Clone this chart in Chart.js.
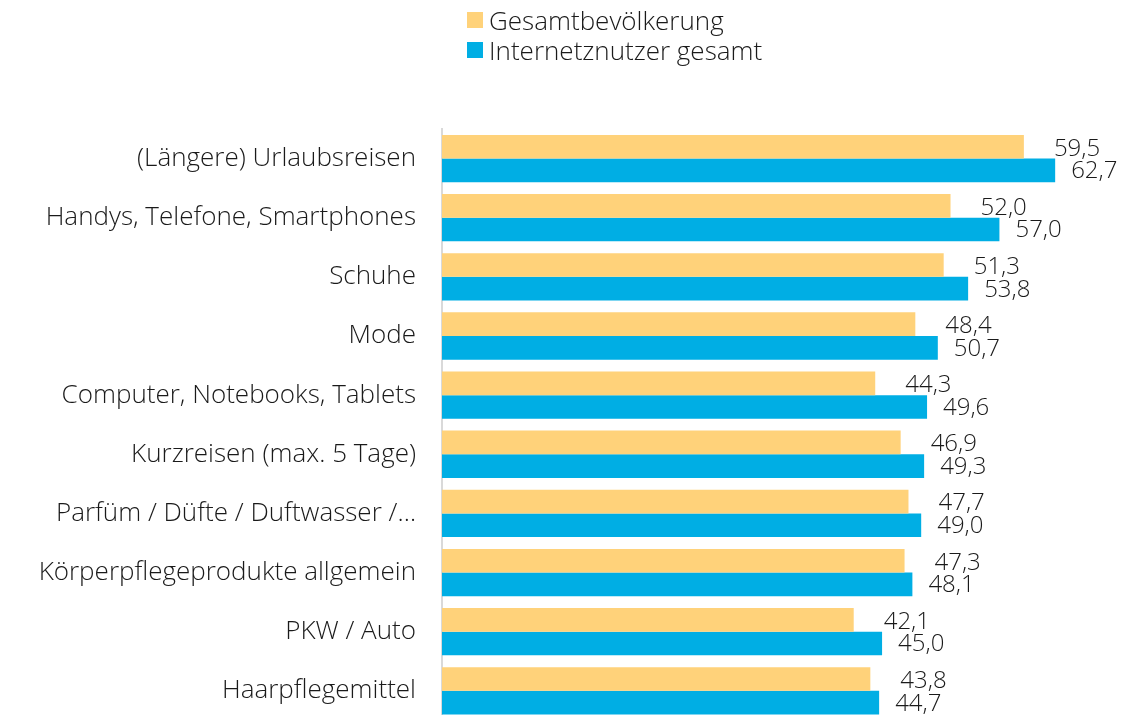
<!DOCTYPE html>
<html>
<head>
<meta charset="utf-8">
<script src="https://cdn.jsdelivr.net/npm/chart.js@4"></script>
<style>
  html, body { margin: 0; padding: 0; background: #fff; overflow: hidden; }
  #wrap { position: relative; width: 1122px; height: 762px; }
  #legend { position: absolute; left: 467px; top: 5px; font-family: "Open Sans", sans-serif; font-weight: 300; font-size: 26px; color: #1a1a1a; }
  #legend div { display: flex; align-items: center; height: 30px; }
  #legend span.box { display: inline-block; width: 16px; height: 16px; margin-right: 6px; }
</style>
</head>
<body>
<div id="wrap">
  <canvas id="chart"></canvas>
  <div id="legend"></div>
</div>
<script>
const categories = [
    "(Längere) Urlaubsreisen",
    "Handys, Telefone, Smartphones",
    "Schuhe",
    "Mode",
    "Computer, Notebooks, Tablets",
    "Kurzreisen (max. 5 Tage)",
    "Parfüm / Düfte / Duftwasser /…",
    "Körperpflegeprodukte allgemein",
    "PKW / Auto",
    "Haarpflegemittel"
];
const gesamtbevoelkerung = [59.5, 52.0, 51.3, 48.4, 44.3, 46.9, 47.7, 47.3, 42.1, 43.8];
const internetnutzer = [62.7, 57.0, 53.8, 50.7, 49.6, 49.3, 49.0, 48.1, 45.0, 44.7];

const yellow = '#FFD27A';
const blue = '#00AEE4';
const textColor = '#1a1a1a';

// value labels at bar ends, comma as decimal sign
const valueLabels = {
    id: 'valueLabels',
    afterDatasetsDraw(chart) {
        const ctx = chart.ctx;
        ctx.save();
        ctx.font = '300 24px "Open Sans", sans-serif';
        ctx.fillStyle = textColor;
        ctx.textAlign = 'left';
        ctx.textBaseline = 'middle';
        chart.data.datasets.forEach((ds, di) => {
            const meta = chart.getDatasetMeta(di);
            const offset = di === 0 ? 30 : 16;
            const dy = di === 0 ? 2 : 1;
            meta.data.forEach((bar, i) => {
                const txt = ds.data[i].toFixed(1).replace('.', ',');
                ctx.fillText(txt, bar.x + offset, bar.y + dy);
            });
        });
        ctx.restore();
    }
};

const chart = new Chart(document.getElementById('chart').getContext('2d'), {
    type: 'bar',
    data: {
        labels: categories,
        datasets: [
            { label: 'Gesamtbevölkerung', data: gesamtbevoelkerung, backgroundColor: yellow },
            { label: 'Internetznutzer gesamt', data: internetnutzer, backgroundColor: blue }
        ]
    },
    options: {
        indexAxis: 'y',
        responsive: true,
        maintainAspectRatio: false,
        animation: false,
        categoryPercentage: 0.8,
        barPercentage: 1.0,
        layout: { padding: { top: 129, right: 15, bottom: 4, left: 0 } },
        scales: {
            x: { display: false, min: 0, max: 68 },
            y: {
                afterFit(scale) { scale.width = 442; },
                grid: { display: false, drawTicks: false },
                border: { display: true, color: '#d9d9d9', width: 2 },
                ticks: {
                    padding: 26,
                    color: textColor,
                    font: { family: '"Open Sans", sans-serif', size: 26, weight: '300' }
                }
            }
        },
        plugins: {
            legend: { display: false },
            tooltip: { enabled: false }
        }
    },
    plugins: [valueLabels]
});

// html legend, stacked like the original
const legend = document.getElementById('legend');
chart.data.datasets.forEach(ds => {
    const row = document.createElement('div');
    row.innerHTML = '<span class="box" style="background:' + ds.backgroundColor + '"></span>' + ds.label;
    legend.appendChild(row);
});
</script>
</body>
</html>
